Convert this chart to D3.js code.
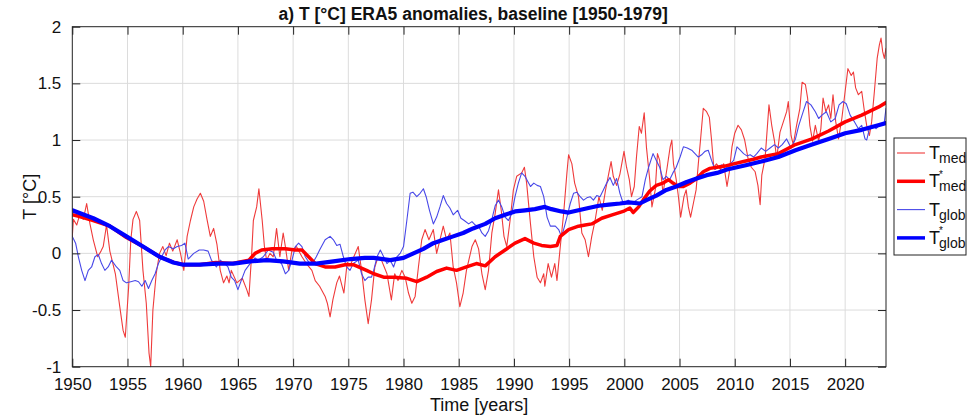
<!DOCTYPE html>
<html>
<head>
<meta charset="utf-8">
<script src="https://cdn.jsdelivr.net/npm/d3@7"></script>
<style>
  html, body { margin: 0; padding: 0; background: #fff; }
  svg { display: block; font-family: "Liberation Sans", Arial, Helvetica, sans-serif; }
</style>
</head>
<body>
<svg id="chart" width="969" height="417"></svg>
<script>
// ERA5 temperature anomalies (°C), baseline 1950-1979.
// Each series is a list of [year, anomaly] pairs.

// Mediterranean anomaly, T_med
const tMed = [
  [1950.0,0.15],[1950.1,0.30],[1950.4,0.25],[1950.7,0.35],[1951.0,0.30],[1951.3,0.44],[1951.6,0.26],
  [1951.9,0.12],[1952.3,-0.03],[1952.6,0.02],[1952.8,0.06],[1953.1,0.25],[1953.4,0.02],[1953.9,-0.18],
  [1954.3,-0.47],[1954.6,-0.68],[1954.8,-0.74],[1955.1,-0.30],[1955.3,0.12],[1955.5,0.30],[1955.8,0.37],
  [1956.1,0.29],[1956.4,-0.15],[1956.7,-0.44],[1956.95,-0.88],[1957.1,-1.00],[1957.3,-0.50],[1957.6,-0.18],
  [1957.9,0.00],[1958.2,0.06],[1958.5,-0.02],[1958.8,0.09],[1959.1,0.02],[1959.5,0.12],[1959.8,0.00],
  [1960.1,-0.15],[1960.4,0.15],[1960.7,0.29],[1961.0,0.41],[1961.3,0.48],[1961.6,0.53],[1961.9,0.46],
  [1962.2,0.30],[1962.5,0.15],[1962.8,0.22],[1963.1,0.08],[1963.4,-0.15],[1963.7,-0.26],[1964.0,-0.20],
  [1964.2,-0.26],[1964.4,-0.15],[1964.9,-0.26],[1965.4,-0.22],[1965.8,-0.32],[1966.0,-0.38],[1966.25,0.00],
  [1966.4,0.29],[1966.7,0.41],[1966.9,0.57],[1967.2,0.29],[1967.4,0.06],[1967.6,-0.06],[1967.9,0.00],
  [1968.2,-0.03],[1968.5,0.22],[1968.8,-0.03],[1969.1,0.18],[1969.3,0.06],[1969.6,-0.15],[1969.9,0.03],
  [1970.3,0.06],[1970.8,-0.03],[1971.2,-0.09],[1971.7,-0.15],[1972.0,-0.24],[1972.4,-0.29],[1972.9,-0.38],
  [1973.1,-0.44],[1973.35,-0.56],[1973.6,-0.41],[1973.95,-0.26],[1974.2,-0.20],[1974.6,-0.35],[1974.9,-0.08],
  [1975.2,-0.10],[1975.5,-0.03],[1975.9,0.06],[1976.2,-0.15],[1976.5,-0.41],[1976.8,-0.62],[1977.1,-0.41],
  [1977.4,-0.12],[1977.7,-0.03],[1978.0,-0.06],[1978.5,-0.18],[1978.9,-0.41],[1979.2,-0.18],[1979.5,-0.24],
  [1979.85,-0.15],[1980.15,-0.21],[1980.45,-0.35],[1980.75,-0.44],[1981.05,-0.38],[1981.35,-0.12],[1981.65,0.12],
  [1981.95,0.21],[1982.3,0.12],[1982.7,0.21],[1983.0,0.00],[1983.3,0.12],[1983.6,0.24],[1983.9,0.12],
  [1984.2,0.18],[1984.5,-0.12],[1984.8,-0.26],[1985.1,-0.47],[1985.4,-0.35],[1985.7,-0.15],[1986.2,0.06],
  [1986.5,0.12],[1986.8,0.04],[1987.1,-0.18],[1987.4,-0.32],[1987.7,-0.15],[1988.0,0.18],[1988.3,0.35],
  [1988.6,0.56],[1988.85,0.38],[1989.1,0.15],[1989.35,0.06],[1989.65,0.29],[1989.95,0.56],[1990.25,0.68],
  [1990.7,0.71],[1990.95,0.76],[1991.15,0.62],[1991.5,0.26],[1991.8,-0.03],[1992.1,-0.21],[1992.4,-0.26],
  [1992.7,-0.18],[1992.8,-0.29],[1993.1,-0.09],[1993.4,-0.21],[1993.7,-0.09],[1993.9,-0.24],[1994.2,0.06],
  [1994.5,0.35],[1994.8,0.71],[1994.95,0.87],[1995.25,0.79],[1995.5,0.62],[1995.85,0.50],[1996.15,0.18],
  [1996.45,0.12],[1996.75,-0.03],[1997.05,0.15],[1997.35,0.29],[1997.7,0.50],[1998.0,0.38],[1998.3,0.56],
  [1998.6,0.71],[1998.8,0.81],[1999.0,0.68],[1999.3,0.60],[1999.6,0.70],[1999.97,0.90],[2000.2,0.76],
  [2000.45,0.65],[2000.65,0.50],[2000.9,0.59],[2001.1,0.85],[2001.35,1.12],[2001.55,1.06],[2001.8,1.24],
  [2002.0,0.94],[2002.3,0.65],[2002.5,0.41],[2002.8,0.56],[2003.0,0.88],[2003.2,0.82],[2003.5,0.53],
  [2003.85,0.74],[2004.15,0.94],[2004.3,1.00],[2004.45,0.79],[2004.7,0.65],[2004.9,0.50],[2005.1,0.32],
  [2005.4,0.50],[2005.6,0.56],[2005.8,0.41],[2006.0,0.32],[2006.25,0.44],[2006.5,0.56],[2006.7,0.79],
  [2006.9,1.00],[2007.15,1.28],[2007.45,1.25],[2007.7,1.20],[2007.9,1.00],[2008.1,0.76],[2008.35,0.79],
  [2008.7,0.74],[2009.0,0.79],[2009.3,0.59],[2009.5,0.71],[2009.75,0.94],[2010.0,1.06],[2010.3,1.13],
  [2010.6,1.09],[2010.9,1.00],[2011.2,0.84],[2011.5,0.76],[2011.85,0.72],[2012.1,0.60],[2012.3,0.43],
  [2012.45,0.69],[2012.75,0.84],[2013.1,1.31],[2013.35,1.13],[2013.6,0.99],[2013.8,0.84],[2014.1,1.07],
  [2014.4,1.16],[2014.7,1.25],[2014.85,1.34],[2015.1,1.04],[2015.3,0.96],[2015.6,1.13],[2015.9,1.28],
  [2016.1,1.51],[2016.4,1.49],[2016.6,1.37],[2016.8,1.13],[2017.05,0.99],[2017.3,1.13],[2017.6,0.99],
  [2017.8,1.10],[2018.0,1.37],[2018.25,1.25],[2018.5,1.31],[2018.7,1.19],[2018.9,1.40],[2019.15,1.16],
  [2019.4,1.01],[2019.7,1.19],[2020.0,1.43],[2020.25,1.63],[2020.55,1.57],[2020.75,1.60],[2020.95,1.46],
  [2021.2,1.40],[2021.5,1.43],[2021.75,1.25],[2021.95,1.13],[2022.2,1.04],[2022.4,1.16],[2022.65,1.43],
  [2022.9,1.72],[2023.1,1.84],[2023.25,1.90],[2023.4,1.78],[2023.55,1.72],[2023.7,1.81]
];

// Global anomaly, T_glob
const tGlob = [
  [1950.0,0.15],[1950.3,0.09],[1950.55,-0.03],[1950.85,-0.15],[1951.15,-0.24],[1951.45,-0.15],[1951.75,-0.12],
  [1952.05,-0.03],[1952.35,-0.01],[1952.65,-0.09],[1952.95,-0.15],[1953.25,-0.12],[1953.55,-0.06],[1954.0,-0.12],
  [1954.3,-0.15],[1954.6,-0.24],[1954.9,-0.26],[1955.3,-0.25],[1955.7,-0.24],[1956.0,-0.25],[1956.3,-0.29],
  [1956.6,-0.24],[1956.9,-0.31],[1957.2,-0.24],[1957.5,-0.18],[1957.8,-0.09],[1958.1,-0.03],[1958.4,0.03],
  [1958.7,0.06],[1959.15,0.04],[1959.5,0.06],[1959.9,0.07],[1960.2,0.09],[1960.5,-0.05],[1960.8,-0.02],
  [1961.0,0.00],[1961.5,0.03],[1961.9,0.03],[1962.3,0.02],[1962.6,-0.06],[1963.05,-0.12],[1963.4,-0.06],
  [1963.8,-0.09],[1964.1,-0.12],[1964.4,-0.21],[1964.7,-0.24],[1965.0,-0.32],[1965.3,-0.24],[1965.65,-0.15],
  [1966.1,-0.09],[1966.55,-0.04],[1966.85,-0.06],[1967.3,-0.03],[1967.75,0.03],[1968.2,0.01],[1968.5,-0.06],
  [1968.95,-0.09],[1969.3,-0.18],[1969.6,-0.15],[1969.9,-0.06],[1970.2,0.06],[1970.5,0.09],[1970.8,0.06],
  [1971.1,-0.03],[1971.5,-0.09],[1971.8,-0.08],[1972.1,-0.03],[1972.4,0.03],[1972.9,0.12],[1973.35,0.15],
  [1973.65,0.12],[1973.95,0.07],[1974.25,0.08],[1974.55,-0.03],[1974.85,-0.12],[1975.15,-0.15],[1975.45,-0.09],
  [1975.9,-0.06],[1976.2,-0.18],[1976.5,-0.24],[1976.8,-0.21],[1977.1,-0.21],[1977.3,-0.15],[1977.6,-0.03],
  [1977.9,0.03],[1978.2,-0.03],[1978.5,-0.09],[1978.8,-0.06],[1979.1,-0.12],[1979.4,-0.03],[1979.7,0.00],
  [1980.0,0.06],[1980.3,0.29],[1980.6,0.53],[1980.85,0.54],[1981.2,0.50],[1981.5,0.53],[1981.8,0.57],
  [1982.05,0.50],[1982.35,0.38],[1982.7,0.26],[1983.0,0.32],[1983.3,0.41],[1983.6,0.51],[1983.9,0.44],
  [1984.2,0.40],[1984.5,0.34],[1984.9,0.38],[1985.2,0.31],[1985.5,0.29],[1985.9,0.26],[1986.2,0.28],
  [1986.5,0.25],[1986.8,0.24],[1987.1,0.18],[1987.4,0.15],[1987.7,0.20],[1988.0,0.30],[1988.3,0.42],
  [1988.6,0.47],[1988.9,0.41],[1989.2,0.32],[1989.5,0.29],[1989.8,0.35],[1990.1,0.50],[1990.4,0.62],
  [1990.7,0.71],[1991.0,0.68],[1991.5,0.59],[1991.8,0.62],[1992.1,0.60],[1992.4,0.59],[1992.7,0.50],
  [1993.0,0.32],[1993.3,0.24],[1993.75,0.24],[1994.05,0.21],[1994.3,0.15],[1994.5,0.21],[1994.8,0.32],
  [1995.1,0.44],[1995.4,0.53],[1995.7,0.54],[1996.0,0.50],[1996.3,0.47],[1996.6,0.49],[1996.9,0.50],
  [1997.2,0.47],[1997.5,0.51],[1997.8,0.50],[1998.1,0.56],[1998.4,0.62],[1998.7,0.67],[1999.0,0.60],
  [1999.3,0.66],[1999.6,0.53],[1999.9,0.44],[2000.35,0.47],[2000.7,0.44],[2001.1,0.47],[2001.6,0.50],
  [2001.9,0.65],[2002.2,0.76],[2002.6,0.88],[2002.9,0.82],[2003.2,0.76],[2003.5,0.65],[2003.8,0.68],
  [2004.1,0.65],[2004.4,0.71],[2004.7,0.76],[2005.05,0.85],[2005.35,0.94],[2005.7,0.93],[2006.1,0.91],
  [2006.4,0.88],[2006.7,0.85],[2007.0,0.87],[2007.3,0.90],[2007.6,0.91],[2007.9,0.82],[2008.2,0.74],
  [2008.5,0.76],[2008.8,0.78],[2009.3,0.76],[2009.6,0.79],[2009.9,0.82],[2010.2,0.94],[2010.5,0.91],
  [2010.8,0.88],[2011.1,0.86],[2011.4,0.87],[2011.7,0.85],[2012.0,0.88],[2012.4,0.93],[2012.8,0.90],
  [2013.2,0.93],[2013.6,0.96],[2013.95,0.93],[2014.3,0.96],[2014.7,1.01],[2015.1,0.93],[2015.5,1.01],
  [2015.8,1.13],[2016.2,1.25],[2016.5,1.34],[2016.9,1.31],[2017.3,1.25],[2017.6,1.19],[2017.9,1.22],
  [2018.3,1.25],[2018.7,1.16],[2019.1,1.19],[2019.45,1.31],[2019.8,1.34],[2020.1,1.32],[2020.45,1.22],
  [2020.85,1.16],[2021.2,1.10],[2021.5,1.13],[2021.8,1.01],[2021.95,1.00],[2022.2,1.10],[2022.5,1.13],
  [2022.8,1.10],[2023.1,1.13],[2023.4,1.13],[2023.55,1.16],[2023.7,1.28]
];

// Low-frequency component of the Mediterranean anomaly, T*_med
const tMedTrend = [
  [1950.0,0.34],[1950.5,0.33],[1951.9,0.29],[1953.4,0.24],[1954.9,0.14],[1956.4,0.06],[1957.9,-0.03],
  [1959.2,-0.08],[1960.1,-0.10],[1961.5,-0.10],[1963.0,-0.08],[1964.5,-0.09],[1966.0,-0.06],[1966.55,0.00],
  [1967.15,0.03],[1968.1,0.04],[1969.3,0.04],[1970.2,0.03],[1970.8,0.03],[1971.4,-0.03],[1972.0,-0.09],
  [1972.9,-0.12],[1973.8,-0.12],[1974.7,-0.10],[1975.45,-0.10],[1976.65,-0.15],[1977.3,-0.18],[1978.2,-0.21],
  [1979.1,-0.21],[1980.3,-0.22],[1981.2,-0.25],[1982.1,-0.21],[1983.0,-0.16],[1983.9,-0.13],[1984.8,-0.15],
  [1985.7,-0.12],[1986.6,-0.09],[1987.4,-0.11],[1988.3,-0.03],[1989.2,0.03],[1990.1,0.09],[1991.0,0.13],
  [1991.8,0.09],[1992.5,0.07],[1993.3,0.06],[1993.9,0.07],[1994.2,0.15],[1994.95,0.21],[1995.85,0.24],
  [1996.45,0.25],[1997.05,0.26],[1997.95,0.31],[1998.9,0.34],[1999.9,0.37],[2000.5,0.40],[2000.8,0.36],
  [2001.3,0.41],[2001.7,0.47],[2002.3,0.55],[2002.9,0.60],[2003.5,0.62],[2004.0,0.65],[2004.4,0.62],
  [2004.9,0.59],[2005.35,0.59],[2005.95,0.62],[2006.55,0.66],[2007.15,0.72],[2007.75,0.75],[2008.4,0.76],
  [2009.1,0.77],[2009.9,0.79],[2010.8,0.81],[2011.7,0.83],[2012.4,0.85],[2013.95,0.88],[2015.5,0.96],
  [2017.0,1.01],[2018.5,1.08],[2020.0,1.16],[2021.5,1.22],[2023.0,1.29],[2023.7,1.33]
];

// Low-frequency component of the global anomaly, T*_glob
const tGlobTrend = [
  [1950.0,0.38],[1951.9,0.31],[1953.4,0.24],[1954.9,0.15],[1956.4,0.06],[1957.9,-0.03],[1959.15,-0.08],
  [1960.05,-0.10],[1961.6,-0.10],[1963.1,-0.09],[1964.6,-0.09],[1966.1,-0.07],[1967.6,-0.06],[1969.1,-0.07],
  [1970.6,-0.09],[1972.1,-0.09],[1973.65,-0.07],[1975.2,-0.05],[1976.5,-0.04],[1977.3,-0.04],[1978.8,-0.06],
  [1980.0,-0.04],[1980.9,0.00],[1981.8,0.04],[1982.7,0.09],[1983.6,0.12],[1984.5,0.15],[1985.4,0.18],
  [1986.3,0.22],[1987.4,0.26],[1988.3,0.31],[1989.2,0.34],[1990.1,0.37],[1991.0,0.38],[1991.9,0.39],
  [1992.8,0.41],[1993.4,0.39],[1994.3,0.37],[1994.95,0.36],[1995.85,0.38],[1996.75,0.40],[1997.7,0.42],
  [1998.6,0.43],[1999.6,0.44],[2000.4,0.45],[2001.4,0.44],[2002.0,0.47],[2002.9,0.51],[2003.8,0.56],
  [2004.7,0.59],[2005.65,0.63],[2006.55,0.66],[2007.45,0.69],[2008.4,0.71],[2009.3,0.74],[2010.2,0.76],
  [2011.1,0.78],[2012.4,0.81],[2013.95,0.85],[2015.5,0.91],[2017.0,0.96],[2018.5,1.01],[2020.0,1.06],
  [2021.5,1.09],[2023.0,1.13],[2023.7,1.15]
];

const xTicks = [1950,1955,1960,1965,1970,1975,1980,1985,1990,1995,2000,2005,2010,2015,2020];
const yTicks = [-1,-0.5,0,0.5,1,1.5,2];
const yTickLabels = ["-1","-0.5","0","0.5","1","1.5","2"];
const xDomain = [1950, 2023.7];
const yDomain = [-1, 2];

const titleText = "a) T [°C] ERA5 anomalies, baseline [1950-1979]";
const xLabelText = "Time [years]";
const yLabelText = "T [°C]";

const legendItems = [
  { base: "T", sup: "",  sub: "med",  color: "#ef3b3b", width: 1.1 },
  { base: "T", sup: "*", sub: "med",  color: "#ff0000", width: 3.5 },
  { base: "T", sup: "",  sub: "glob", color: "#4848e8", width: 1.1 },
  { base: "T", sup: "*", sub: "glob", color: "#0000ff", width: 4.2 }
];

// Layout
const W = 969, H = 417;
const margin = { left: 72.3, right: 83, top: 26.7, bottom: 50.3 };
const pw = W - margin.left - margin.right;
const ph = H - margin.top - margin.bottom;

const svg = d3.select("#chart");
const g = svg.append("g").attr("transform", `translate(${margin.left},${margin.top})`);

const x = d3.scaleLinear().domain(xDomain).range([0, pw]);
const y = d3.scaleLinear().domain(yDomain).range([ph, 0]);

// Grid
g.append("g").selectAll("line.vg").data(xTicks.slice(1)).join("line")
  .attr("x1", d => x(d)).attr("x2", d => x(d)).attr("y1", 0).attr("y2", ph)
  .attr("stroke", "#dcdcdc").attr("stroke-width", 1);
g.append("g").selectAll("line.hg").data(yTicks.slice(1, -1)).join("line")
  .attr("y1", d => y(d)).attr("y2", d => y(d)).attr("x1", 0).attr("x2", pw)
  .attr("stroke", "#dcdcdc").attr("stroke-width", 1);

// Series
g.append("defs").append("clipPath").attr("id", "plotclip")
  .append("rect").attr("x", 0).attr("y", -1).attr("width", pw).attr("height", ph + 2);

const line = d3.line().x(d => x(d[0])).y(d => y(d[1]));
const series = g.append("g").attr("clip-path", "url(#plotclip)");
const draw = (data, color, width) => series.append("path").datum(data)
  .attr("d", line).attr("fill", "none").attr("stroke", color)
  .attr("stroke-width", width).attr("stroke-linejoin", "round").attr("stroke-linecap", "round");

draw(tMed, legendItems[0].color, legendItems[0].width);
draw(tGlob, legendItems[2].color, legendItems[2].width);
draw(tMedTrend, legendItems[1].color, legendItems[1].width);
draw(tGlobTrend, legendItems[3].color, legendItems[3].width);

// Axes (ticks pointing inward, on all four sides)
const tickLen = 8;
const fontSize = 17;
const xAxisB = d3.axisBottom(x).tickValues(xTicks).tickSize(-tickLen).tickPadding(tickLen + 3).tickFormat(d3.format("d"));
const xAxisT = d3.axisTop(x).tickValues(xTicks).tickSize(-tickLen).tickFormat("");
const yAxisL = d3.axisLeft(y).tickValues(yTicks).tickSize(-tickLen).tickPadding(tickLen + 3).tickFormat((d, i) => yTickLabels[i]);
const yAxisR = d3.axisRight(y).tickValues(yTicks).tickSize(-tickLen).tickFormat("");

function styleAxis(sel) {
  sel.select(".domain").remove();
  sel.selectAll(".tick line").attr("stroke", "#222").attr("stroke-width", 1);
  sel.selectAll(".tick text").attr("fill", "#111").style("font-size", fontSize + "px")
    .style("font-family", "'Liberation Sans', Arial, sans-serif");
}
g.append("g").attr("transform", `translate(0,${ph})`).call(xAxisB).call(styleAxis);
g.append("g").call(xAxisT).call(styleAxis);
g.append("g").call(yAxisL).call(styleAxis);
g.append("g").attr("transform", `translate(${pw},0)`).call(yAxisR).call(styleAxis);

// Axes box
g.append("rect").attr("x", 0).attr("y", 0).attr("width", pw).attr("height", ph)
  .attr("fill", "none").attr("stroke", "#222").attr("stroke-width", 1);

// Title and axis labels
svg.append("text").attr("x", margin.left + pw / 2 - 6).attr("y", 20)
  .attr("text-anchor", "middle").style("font-size", "17.5px").style("font-weight", "bold")
  .attr("fill", "#111").text(titleText);
svg.append("text").attr("x", margin.left + pw / 2).attr("y", 411)
  .attr("text-anchor", "middle").style("font-size", "18px").attr("fill", "#111").text(xLabelText);
svg.append("text").attr("transform", `translate(36,${margin.top + ph / 2}) rotate(-90)`)
  .attr("text-anchor", "middle").style("font-size", "18px").attr("fill", "#111").text(yLabelText);

// Legend
const lg = svg.append("g").attr("transform", "translate(894,138)");
lg.append("rect").attr("width", 72).attr("height", 117)
  .attr("fill", "#fff").attr("stroke", "#222").attr("stroke-width", 1);
const rows = lg.selectAll("g.row").data(legendItems).join("g")
  .attr("transform", (d, i) => `translate(0,${15 + i * 28.3})`);
rows.append("line").attr("x1", 3).attr("x2", 31).attr("y1", 0).attr("y2", 0)
  .attr("stroke", d => d.color).attr("stroke-width", d => Math.min(d.width, 3.5));
rows.append("text").attr("x", 35).attr("y", 6).style("font-size", "18px").attr("fill", "#111").text(d => d.base);
rows.append("text").attr("x", 45).attr("y", -3.5).style("font-size", "10px").attr("fill", "#111").text(d => d.sup);
rows.append("text").attr("x", 45).attr("y", 10).style("font-size", "14px").attr("fill", "#111").text(d => d.sub);
</script>
</body>
</html>
